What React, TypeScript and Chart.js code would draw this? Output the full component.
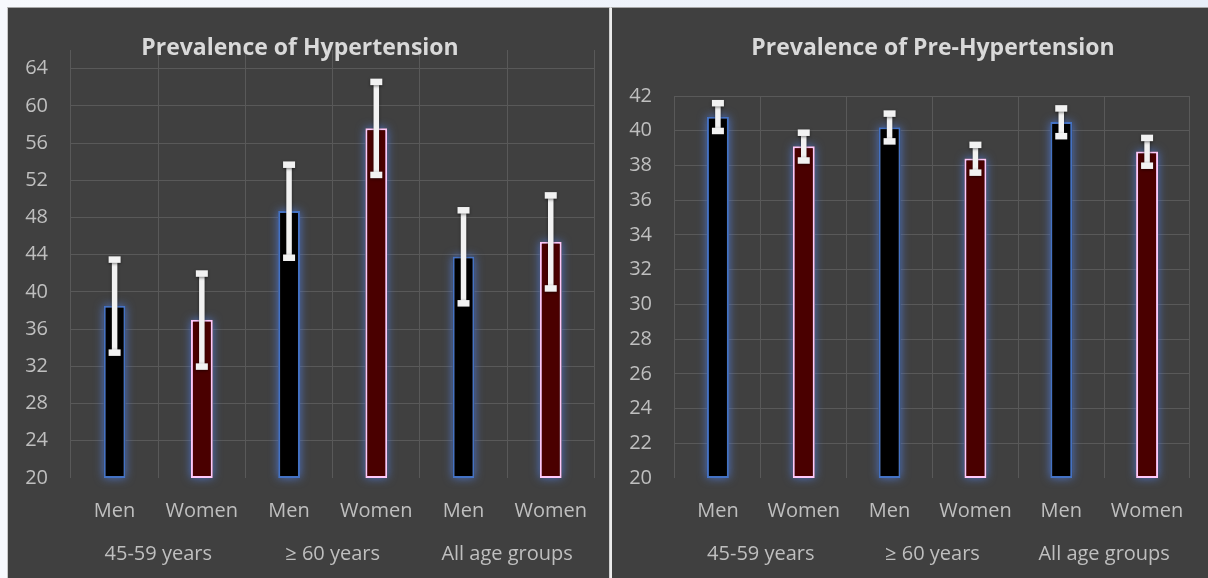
import React, { useEffect, useRef } from "react";
import { Chart, registerables } from "chart.js";
Chart.register(...registerables);

// ---------- data ----------
const categories = ["Men", "Women", "Men", "Women", "Men", "Women"];
const groups = ["45-59 years", "≥ 60 years", "All age groups"];

const htnValues = [38.5, 37.0, 48.7, 57.6, 43.8, 45.4];
const htnErrors = [5, 5, 5, 5, 5, 5];
const htnTicks = [20, 24, 28, 32, 36, 40, 44, 48, 52, 56, 60, 64];

const preValues = [40.8, 39.1, 40.2, 38.4, 40.5, 38.8];
const preErrors = [0.8, 0.8, 0.8, 0.8, 0.8, 0.8];
const preTicks = [20, 22, 24, 26, 28, 30, 32, 34, 36, 38, 40, 42];

const htnTitle = "Prevalence of Hypertension";
const preTitle = "Prevalence of Pre-Hypertension";

// ---------- styles ----------
const FONT = "'Open Sans', 'DejaVu Sans', sans-serif";
const GRID = "#595959";
const TICK = "#bfbfbf";
const TITLE = "#d9d9d9";
const MEN_FILL = "#000000";
const MEN_BORDER = "#4472c4";
const WOMEN_FILL = "#4a0000";
const WOMEN_BORDER = "#ffc8fa";

const glowPlugin = {
  id: "glow",
  beforeDatasetsDraw(chart: any) {
    const ctx = chart.ctx;
    const meta = chart.getDatasetMeta(0);
    ctx.save();
    ctx.shadowColor = "rgba(80,120,210,0.9)";
    ctx.shadowBlur = 10;
    ctx.fillStyle = "#404040";
    meta.data.forEach((bar: any) => {
      const w = bar.width;
      const top = Math.min(bar.y, bar.base);
      const h = Math.abs(bar.base - bar.y);
      ctx.fillRect(bar.x - w / 2, top, w, h);
    });
    ctx.restore();
  },
};

const errorBarPlugin = {
  id: "errorBars",
  afterDatasetsDraw(chart: any, _args: any, opts: any) {
    const ctx = chart.ctx;
    const errs: number[] = opts.errors || [];
    const vals: number[] = opts.values || [];
    const meta = chart.getDatasetMeta(0);
    const y = chart.scales.y;
    ctx.save();
    ctx.fillStyle = "#f2f2f2";
    ctx.shadowColor = "rgba(0,0,0,0.5)";
    ctx.shadowBlur = 3;
    ctx.shadowOffsetY = 1;
    meta.data.forEach((bar: any, i: number) => {
      const v = vals[i];
      const e = errs[i];
      const yt = y.getPixelForValue(v + e);
      const yb = y.getPixelForValue(v - e);
      const x = bar.x;
      ctx.fillRect(x - 2.75, yt, 5.5, yb - yt);
      ctx.fillRect(x - 6, yt - 3, 12, 6.5);
      ctx.fillRect(x - 6, yb - 3, 12, 6.5);
    });
    ctx.restore();
  },
};

const titlePlugin = {
  id: "panelTitle",
  afterDraw(chart: any, _args: any, opts: any) {
    const ctx = chart.ctx;
    ctx.save();
    ctx.font = `bold 23px ${FONT}`;
    ctx.fillStyle = TITLE;
    ctx.textAlign = "center";
    ctx.textBaseline = "middle";
    ctx.fillText(opts.text, opts.x, opts.y);
    ctx.restore();
  },
};

type PanelProps = {
  title: string;
  values: number[];
  errors: number[];
  ticks: number[];
  min: number;
  max: number;
  width: number;
  height: number;
  padTop: number;
  padRight: number;
  barPct: number;
  titleX: number;
  titleY: number;
};

function Panel(p: PanelProps) {
  const ref = useRef<HTMLCanvasElement | null>(null);
  useEffect(() => {
    if (!ref.current) return;
    const chart = new Chart(ref.current, {
      type: "bar",
      data: {
        labels: categories,
        datasets: [
          {
            data: p.values.map((v) => [p.min, v]) as any,
            backgroundColor: categories.map((c) => (c === "Men" ? MEN_FILL : WOMEN_FILL)),
            borderColor: categories.map((c) => (c === "Men" ? MEN_BORDER : WOMEN_BORDER)),
            borderWidth: 2,
            borderSkipped: false,
            barPercentage: p.barPct,
            categoryPercentage: 1,
          },
        ],
      },
      options: {
        animation: false,
        responsive: false,
        maintainAspectRatio: false,
        layout: { padding: { top: p.padTop, right: p.padRight, left: 0, bottom: 5 } },
        plugins: {
          legend: { display: false },
          tooltip: { enabled: false },
          title: { display: false },
          errorBars: { errors: p.errors, values: p.values },
          panelTitle: { text: p.title, x: p.titleX, y: p.titleY },
        } as any,
        scales: {
          x: {
            type: "category",
            position: "bottom",
            weight: 0,
            offset: true,
            grid: { color: GRID, lineWidth: 1, drawTicks: false, offset: true },
            border: { display: false },
            ticks: { color: TICK, font: { family: FONT, size: 20 }, padding: 21, maxRotation: 0, autoSkip: false },
            afterFit: (s: any) => {
              s.height = 50;
            },
          },
          x2: {
            type: "category",
            position: "bottom",
            weight: 1,
            labels: groups,
            offset: true,
            grid: { display: false, drawTicks: false },
            border: { display: false },
            ticks: { color: TICK, font: { family: FONT, size: 20 }, padding: 14, maxRotation: 0, autoSkip: false },
            afterFit: (s: any) => {
              s.height = 45;
            },
          },
          y: {
            type: "linear",
            min: p.min,
            max: p.max,
            grid: {
              color: (c: any) => (c.tick && c.tick.value === p.min ? "rgba(0,0,0,0)" : GRID),
              lineWidth: 1,
              drawTicks: false,
            },
            border: { display: false },
            ticks: { color: TICK, font: { family: FONT, size: 20 }, padding: 23, includeBounds: false },
            afterBuildTicks: (s: any) => {
              s.ticks = p.ticks.map((v) => ({ value: v }));
            },
            afterFit: (s: any) => {
              s.width = 63;
            },
          },
        } as any,
      },
      plugins: [glowPlugin, errorBarPlugin, titlePlugin],
    });
    return () => chart.destroy();
  }, []);
  return <canvas ref={ref} width={p.width} height={p.height} style={{ display: "block", width: p.width, height: p.height }} />;
}

export default function App() {
  return (
    <div
      style={{
        position: "absolute",
        left: 0,
        top: 0,
        width: 1208,
        height: 578,
        overflow: "hidden",
        background: "linear-gradient(90deg, #f7f9fd 0%, #e8eef8 100%)",
      }}
    >
      <div
        style={{
          position: "absolute",
          left: 7,
          top: 7,
          width: 603,
          height: 571,
          boxSizing: "border-box",
          background: "#404040",
          borderTop: "1px solid #a8a8a8",
          borderLeft: "1px solid #c8c8c8",
          borderRight: "1px solid #cfcfcf",
        }}
      >
        <Panel
          title={htnTitle}
          values={htnValues}
          errors={htnErrors}
          ticks={htnTicks}
          min={20}
          max={66}
          width={601}
          height={570}
          padTop={42}
          padRight={12}
          barPct={0.25}
          titleX={292}
          titleY={40}
        />
      </div>
      <div
        style={{
          position: "absolute",
          left: 610,
          top: 7,
          width: 598,
          height: 571,
          boxSizing: "border-box",
          background: "#404040",
          borderTop: "1px solid #a8a8a8",
          borderLeft: "2px solid #ececec",
        }}
      >
        <Panel
          title={preTitle}
          values={preValues}
          errors={preErrors}
          ticks={preTicks}
          min={20}
          max={42}
          width={596}
          height={570}
          padTop={88}
          padRight={18}
          barPct={0.256}
          titleX={321}
          titleY={40}
        />
      </div>
    </div>
  );
}
